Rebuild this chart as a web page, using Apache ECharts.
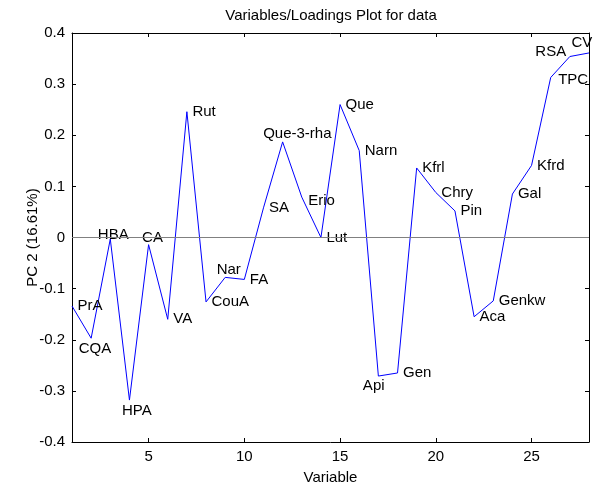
<!DOCTYPE html>
<html><head><meta charset="utf-8">
<script src="https://cdn.jsdelivr.net/npm/echarts@6/dist/echarts.min.js"></script>
<style>html,body{margin:0;padding:0;background:#fff}#c{width:597px;height:491px}</style>
</head><body><div id="c"></div>
<script>
const names = ["PrA","CQA","HBA","HPA","CA","VA","Rut","CouA","Nar","FA","SA","Que-3-rha","Erio","Lut","Que","Narn","Api","Gen","Kfrl","Chry","Pin","Aca","Genkw","Gal","Kfrd","TPC","RSA","CV"];
const values = [-0.134,-0.197,-0.003,-0.318,-0.014,-0.160,0.246,-0.126,-0.078,-0.082,0.058,0.187,0.079,0.0,0.260,0.170,-0.271,-0.265,0.136,0.088,0.052,-0.155,-0.124,0.085,0.141,0.313,0.354,0.361];
const xTicks = [5,10,15,20,25];
const yMin = -0.4, yMax = 0.4, yStep = 0.1;

// label placement tweaks (style only)
const labelOffsets = {
  "CQA":[-18,11], "HBA":[-18,-4], "HPA":[-13,11], "CA":[-12,-7], "Nar":[-14,-8],
  "Que-3-rha":[-25,-8], "Erio":[1,4], "Api":[-21,10], "RSA":[-40,-5], "CV":[-23,-10], "TPC":[2,2]
};

const data = values.map((v,i)=>({value:[i+1, v], name:names[i]}));

const font = 'Arial, "Liberation Sans", sans-serif';
const FS = 15;
const chart = echarts.init(document.getElementById('c'));
const axX = (pos, showLabel) => ({
  type:'value', position:pos, min:1, max:28,
  axisLine:{show:true, onZero:false, lineStyle:{color:'#000', width:1}},
  axisTick:{show:true, inside:true, length:4, customValues:xTicks, lineStyle:{color:'#000'}},
  axisLabel:{show:showLabel, customValues:xTicks, color:'#000', fontSize:FS, fontFamily:font, margin:7},
  splitLine:{show:false}
});
const axY = (pos, showLabel) => ({
  type:'value', position:pos, min:yMin, max:yMax, interval:yStep,
  axisLine:{show:true, onZero:false, lineStyle:{color:'#000', width:1}},
  axisTick:{show:true, inside:true, length:4, lineStyle:{color:'#000'}},
  axisLabel:{show:showLabel, color:'#000', fontSize:FS, fontFamily:font, margin:7,
    formatter:v=>{const r=Math.round(v*10)/10; return r===0?'0':String(r);}},
  splitLine:{show:false}
});
const xb = axX('bottom', true);
xb.name = 'Variable'; xb.nameLocation='middle'; xb.nameGap=28; xb.nameMoveOverlap=false;
xb.nameTextStyle = {color:'#000', fontSize:FS, fontFamily:font};
const yl = axY('left', true);
yl.name = 'PC 2 (16.61%)'; yl.nameLocation='middle'; yl.nameGap=32; yl.nameMoveOverlap=false;
yl.nameTextStyle = {color:'#000', fontSize:FS, fontFamily:font};
const xt = axX('top', false);
const yr = axY('right', false);

chart.setOption({
  animation:false,
  backgroundColor:'#fff',
  title:{text:'Variables/Loadings Plot for data', left:326, textAlign:'center', top:3,
    textStyle:{color:'#000', fontSize:FS, fontWeight:'normal', fontFamily:font}},
  grid:{left:72, right:8, top:33, bottom:49},
  xAxis:[xb, xt],
  yAxis:[yl, yr],
  series:[{
    type:'line', xAxisIndex:0, yAxisIndex:0, data:data,
    showSymbol:true, symbol:'circle', symbolSize:1,
    itemStyle:{color:'rgba(0,0,255,0)'},
    lineStyle:{color:'#0000ff', width:1},
    label:{show:true, position:'right', distance:5, formatter:p=>p.name,
      color:'#000', fontSize:FS, fontFamily:font},
    labelLayout:function(p){
      const off = labelOffsets[names[p.dataIndex]];
      return off ? {dx:off[0], dy:off[1], hideOverlap:false} : {hideOverlap:false};
    },
    markLine:{silent:true, symbol:['none','none'], label:{show:false},
      lineStyle:{color:'#808080', width:1, type:'solid'},
      data:[{yAxis:0}]},
    z:3
  }]
});
</script></body></html>
